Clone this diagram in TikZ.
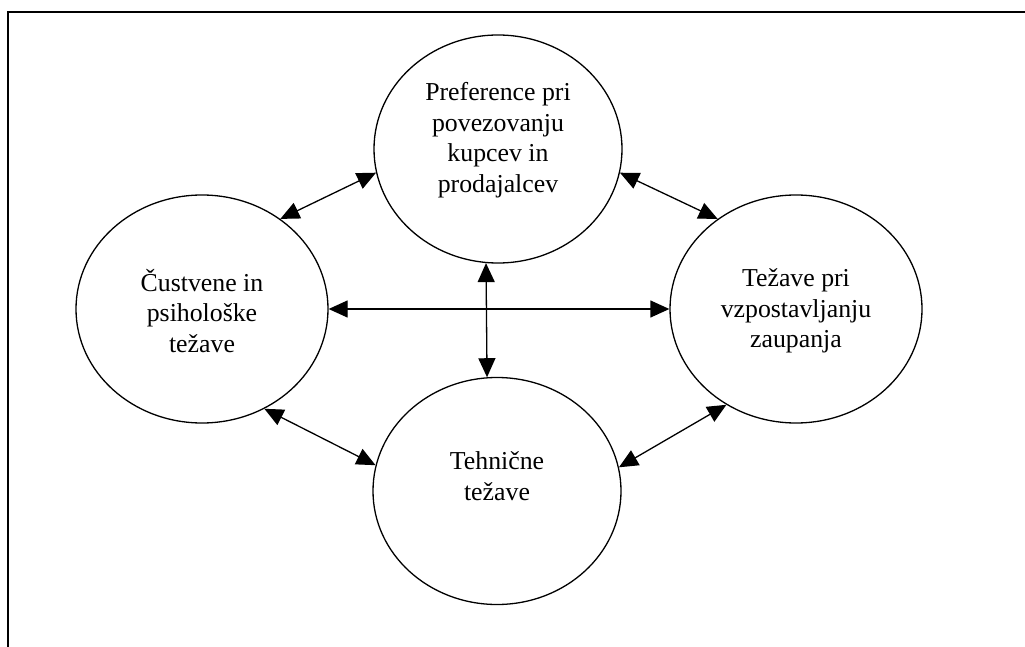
\documentclass[tikz,border=0pt]{standalone}
\usepackage{fontspec}
\setmainfont{Liberation Serif}
\usetikzlibrary{shapes.geometric,arrows.meta}
\tikzset{
  blob/.style={draw, ellipse, line width=1.3pt, inner sep=0pt},
  txt/.style={align=center, font=\fontsize{25.8}{30.5}\selectfont, inner sep=0pt},
  link/.style={line width=1.3pt, {Triangle[length=19pt,width=17pt]}-{Triangle[length=19pt,width=17pt]}},
}
\begin{document}
\begin{tikzpicture}[x=1pt,y=-1pt]
\useasboundingbox (0,0) rectangle (1025,647);
\coordinate (fa) at (8,647);
\coordinate (fb) at (8,12);
\coordinate (fc) at (1025,12);
\draw[line width=1.8pt] (fa) -- (fb) -- (fc);

\node[blob, minimum width=248pt, minimum height=228pt] (top) at (498,149) {};
\node[blob, minimum width=252pt, minimum height=228pt] (left) at (202,309) {};
\node[blob, minimum width=252pt, minimum height=228pt] (right) at (796,309) {};
\node[blob, minimum width=248pt, minimum height=227pt] (bot) at (497,491) {};

\node[txt] (ttop) at (498,140) {Preference pri\\povezovanju\\kupcev in\\prodajalcev};
\node[txt] (tleft) at (202,311) {Čustvene in\\psihološke\\težave};
\node[txt] (tright) at (796,311) {Težave pri\\vzpostavljanju\\zaupanja};
\node[txt] (tbot) at (497,476) {Tehnične\\težave};

\draw[link] (left.49) -- (top.191);
\draw[link] (top.349.6) -- (right.131.4);
\draw[link] (left.0) -- (right.180);
\draw[link] (top.264.5) -- (bot.95);
\draw[link] (left.302.8) -- (bot.168.2);
\draw[link] (bot.11.8) -- (right.234.9);
\end{tikzpicture}
\end{document}
